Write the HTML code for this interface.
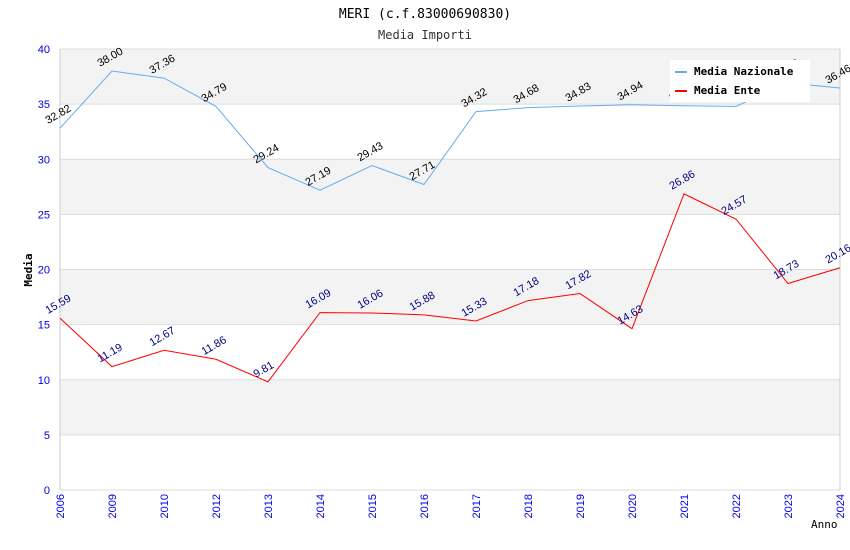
<!DOCTYPE html>
<html><head><meta charset="utf-8"><style>
body{margin:0;background:#fff;}
svg{display:block;}
</style></head><body>
<svg id="chart" width="850" height="550" xmlns="http://www.w3.org/2000/svg">
<text x="425" y="18" text-anchor="middle" font-family="DejaVu Sans Mono, monospace" font-size="13" fill="#000">MERI (c.f.83000690830)</text>
<text x="425" y="39" text-anchor="middle" font-family="DejaVu Sans Mono, monospace" font-size="12" fill="#333">Media Importi</text>
<g id="bands"></g><g id="grid"></g><g id="axes"></g><g id="series"></g><g id="labels"></g>
<g>
<rect x="670" y="60" width="140" height="42" fill="#fff"/>
<line x1="675" y1="72" x2="687" y2="72" stroke="#66aaee" stroke-width="2"/>
<text x="694" y="75" font-family="DejaVu Sans Mono, monospace" font-size="11" font-weight="bold">Media Nazionale</text>
<line x1="675" y1="91" x2="687" y2="91" stroke="#ff0000" stroke-width="2"/>
<text x="694" y="94" font-family="DejaVu Sans Mono, monospace" font-size="11" font-weight="bold">Media Ente</text>
</g>
<text x="32" y="270" transform="rotate(-90 32 270)" text-anchor="middle" font-family="DejaVu Sans Mono, monospace" font-size="11" font-weight="bold">Media</text>
<text x="811" y="528" font-family="DejaVu Sans Mono, monospace" font-size="11">Anno</text>
</svg>
<script>
const categories=["2006","2009","2010","2012","2013","2014","2015","2016","2017","2018","2019","2020","2021","2022","2023","2024"];
const nazionale=[32.82,38.00,37.36,34.79,29.24,27.19,29.43,27.71,34.32,34.68,34.83,34.94,34.85,34.80,36.93,36.46];
const ente=[15.59,11.19,12.67,11.86,9.81,16.09,16.06,15.88,15.33,17.18,17.82,14.63,26.86,24.57,18.73,20.16];
const yTicks=[0,5,10,15,20,25,30,35,40];
const NS="http://www.w3.org/2000/svg";
const L=60,R=840,T=49,B=490,yMax=40;
const x=i=>L+i*(R-L)/(categories.length-1);
const y=v=>B-v*(B-T)/yMax;
function mk(p,t,a){const e=document.createElementNS(NS,t);for(const k in a)e.setAttribute(k,a[k]);document.getElementById(p).appendChild(e);return e;}
for(let k=0;k<yTicks.length-1;k++){if(k%2===1){const r=mk('bands','rect',{x:L,y:y(yTicks[k+1]),width:R-L,height:y(yTicks[k])-y(yTicks[k+1]),fill:'#f3f3f3'});

}}
yTicks.forEach(v=>{const g=mk('grid','line',{x1:L,x2:R,y1:y(v),y2:y(v),stroke:'#dddddd'});


const t=mk('axes','text',{x:L-10,y:y(v)+4,'text-anchor':'end','font-family':'Liberation Sans, sans-serif','font-size':'11',fill:'#0000ee'});t.textContent=v;

});
mk('axes','line',{x1:L,x2:L,y1:T,y2:B,stroke:'#ccc'});mk('axes','line',{x1:R,x2:R,y1:T,y2:B,stroke:'#ccc'});
categories.forEach((c,i)=>{const t=mk('axes','text',{x:x(i)+4,y:B+4,transform:`rotate(-90 ${x(i)+4} ${B+4})`,'text-anchor':'end','font-family':'Liberation Sans, sans-serif','font-size':'11',fill:'#0000ee'});t.textContent=c;

});
function series(vals,color,lc,name){const p=mk('series','polyline',{points:vals.map((v,i)=>x(i)+','+y(v)).join(' '),fill:'none',stroke:color,'stroke-width':'1'});


vals.forEach((v,i)=>{const tx=x(i)-12,ty=y(v)-4;const t=mk('labels','text',{x:tx,y:ty,transform:`rotate(-30 ${tx} ${ty})`,'font-family':'Liberation Sans, sans-serif','font-size':'11',fill:lc});t.textContent=v.toFixed(2);

});}
series(nazionale,'#66aaee','#000','line-nazionale');
series(ente,'#ff0000','#000080','line-ente');
</script>
</body></html>
